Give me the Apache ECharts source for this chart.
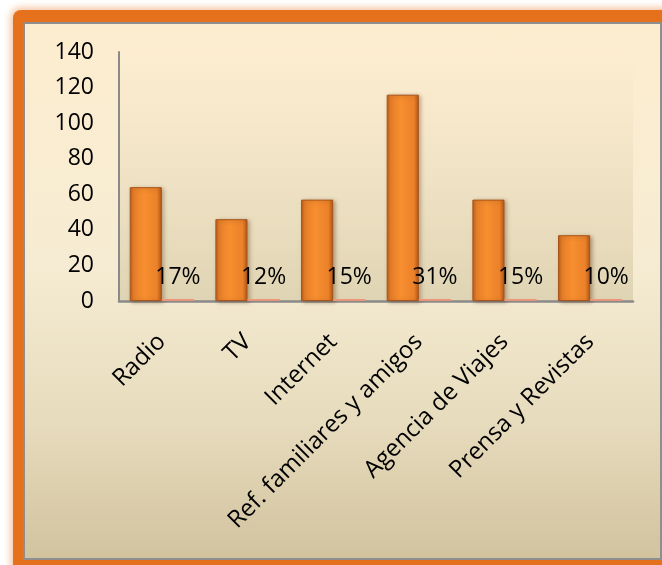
<!DOCTYPE html>
<html>
<head>
<meta charset="utf-8">
<script src="https://cdn.jsdelivr.net/npm/echarts@6/dist/echarts.min.js"></script>
<style>
  html, body { margin:0; padding:0; width:662px; height:565px; overflow:hidden; background:#ffffff; }
  #frame { position:absolute; left:13px; top:10px; width:720px; height:620px; background:#E5711C; border-radius:8px;
           box-shadow: 0 0 6px 3px rgba(236,140,70,0.45); }
  #panel { position:absolute; left:23px; top:22px; width:639px; height:538px; box-sizing:border-box; border:2px solid #8E8E8E;
           background: linear-gradient(to bottom, #FDEDCF 0%, #F6ECD3 45%, #E6DBBC 75%, #D2C39F 100%); }
  #chart { position:absolute; left:0; top:0; width:662px; height:565px; }
</style>
</head>
<body>
<div id="frame"></div>
<div id="panel"></div>
<div id="chart"></div>
<script>
const categories = ['Radio', 'TV', 'Internet', 'Ref. familiares y amigos', 'Agencia de Viajes', 'Prensa y Revistas'];
const counts = [64, 46, 57, 116, 57, 37];
const shares = [0.17, 0.12, 0.15, 0.31, 0.15, 0.10];
const yMin = 0, yMax = 140, yInterval = 20;

const FONT = 'Open Sans';
const chart = echarts.init(document.getElementById('chart'), null, { renderer: 'canvas' });

const barGradient = new echarts.graphic.LinearGradient(0, 0, 1, 0, [
  { offset: 0, color: '#B95E1A' },
  { offset: 0.12, color: '#E8802A' },
  { offset: 0.45, color: '#F78E2F' },
  { offset: 0.85, color: '#EB8129' },
  { offset: 1, color: '#B0561A' }
]);

chart.setOption({
  backgroundColor: 'transparent',
  animation: false,
  grid: {
    left: 119, right: 29, top: 52, bottom: 264,
    show: true, borderWidth: 0,
    backgroundColor: new echarts.graphic.LinearGradient(0, 0, 0, 1, [
      { offset: 0, color: 'rgba(252,236,208,0.6)' },
      { offset: 1, color: '#DED3B2' }
    ])
  },
  xAxis: {
    type: 'category',
    data: categories,
    axisLine: { show: true, lineStyle: { color: '#8A8A8A', width: 2.5 } },
    axisTick: { show: false },
    axisLabel: {
      rotate: 45, interval: 0, margin: 37,
      fontFamily: FONT, fontSize: 24, color: '#000'
    }
  },
  yAxis: {
    type: 'value',
    min: yMin, max: yMax, interval: yInterval,
    axisLine: { show: true, lineStyle: { color: '#8A8A8A', width: 2 } },
    axisTick: { show: false },
    splitLine: { show: false },
    axisLabel: { margin: 25, fontFamily: FONT, fontSize: 23, color: '#000' }
  },
  series: [
    {
      type: 'bar',
      data: counts,
      barGap: '0%',
      barCategoryGap: '25%',
      itemStyle: {
        color: barGradient,
        borderColor: '#A9541A', borderWidth: 1,
        shadowColor: 'rgba(80,40,0,0.35)', shadowBlur: 4, shadowOffsetX: 2, shadowOffsetY: 1
      }
    },
    {
      type: 'bar',
      data: shares,
      barMinHeight: 2,
      itemStyle: { color: '#E9967A' },
      label: {
        show: true, position: 'top', distance: 10,
        fontFamily: FONT, fontSize: 23, color: '#000',
        formatter: p => Math.round(p.value * 100) + '%'
      }
    }
  ]
});
</script>
</body>
</html>
